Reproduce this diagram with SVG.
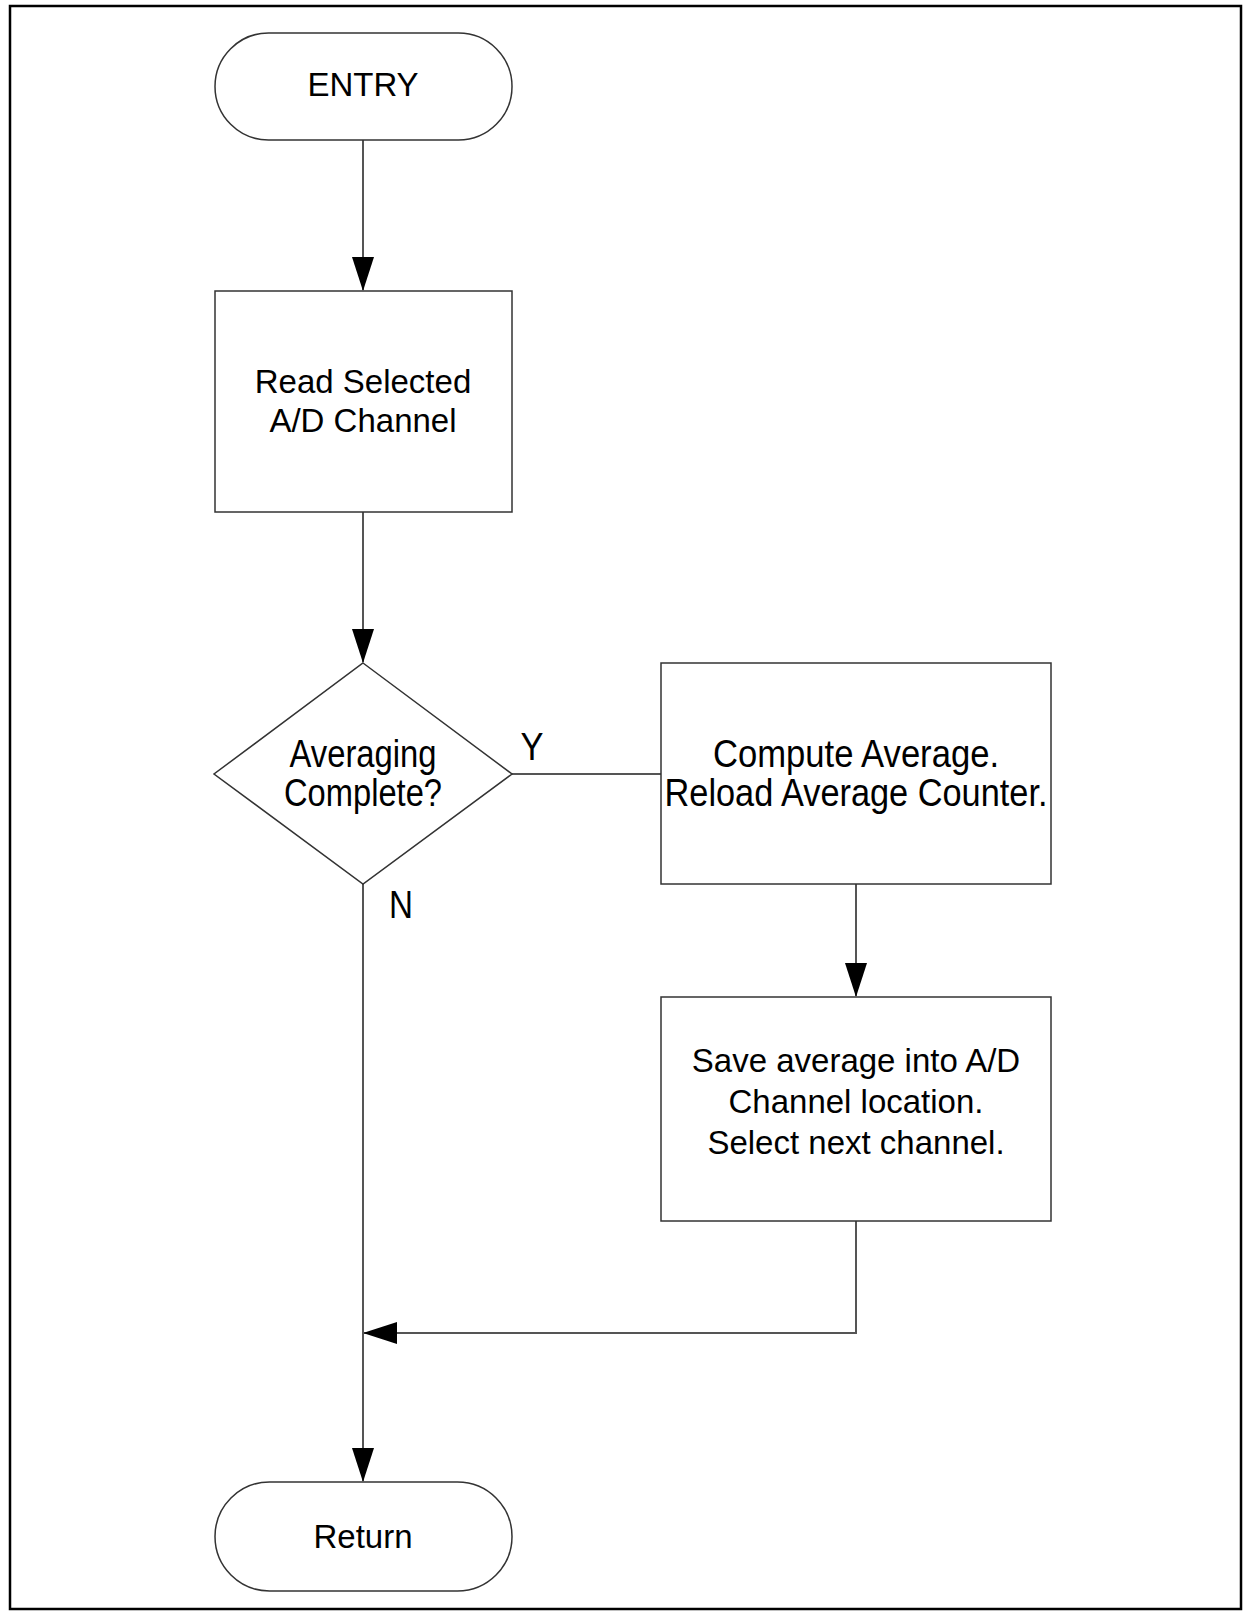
<svg xmlns="http://www.w3.org/2000/svg" width="1244" height="1612" viewBox="0 0 1244 1612">
<defs>
<style>
.shape{fill:#fff;stroke:#333;stroke-width:1.5}
.conn{fill:none;stroke:#555;stroke-width:2}
.t{font-family:"Liberation Sans",Arial,sans-serif;font-size:33px;fill:#000;text-anchor:middle}
.n{font-family:"Liberation Sans",Arial,sans-serif;font-size:38px;fill:#000;text-anchor:middle}
</style>
<marker id="arr" markerUnits="userSpaceOnUse" markerWidth="34" markerHeight="22" refX="33" refY="11" viewBox="0 0 34 22" orient="auto">
<path d="M0,0 L34,11 L0,22 Z" fill="#000"/>
</marker>
</defs>
<rect x="0" y="0" width="1244" height="1612" fill="#fff"/>
<rect id="frame" x="10" y="6" width="1231" height="1603" fill="none" stroke="#000" stroke-width="2.5"/>
<g id="connectors">
<line class="conn" x1="363" y1="140" x2="363" y2="290" marker-end="url(#arr)"/>
<line class="conn" x1="363" y1="512" x2="363" y2="662" marker-end="url(#arr)"/>
<line class="conn" x1="512" y1="774" x2="661" y2="774"/>
<line class="conn" x1="856" y1="884" x2="856" y2="996" marker-end="url(#arr)"/>
<polyline class="conn" points="856,1221 856,1333 364,1333" marker-end="url(#arr)"/>
<line class="conn" x1="363" y1="884" x2="363" y2="1481" marker-end="url(#arr)"/>
</g>
<g id="entry">
<rect class="shape" x="215" y="33" width="297" height="107" rx="53.5" ry="53.5"/>
<text class="t" x="363" y="96">ENTRY</text>
</g>
<g id="read">
<rect class="shape" x="215" y="291" width="297" height="221"/>
<text class="t" x="363" y="393">Read Selected</text>
<text class="t" x="363" y="432">A/D Channel</text>
</g>
<g id="decision">
<polygon class="shape" points="363,663 512,774 363,884 214,774"/>
<text class="n" x="363" y="767" textLength="147" lengthAdjust="spacingAndGlyphs">Averaging</text>
<text class="n" x="363" y="806" textLength="158" lengthAdjust="spacingAndGlyphs">Complete?</text>
</g>
<text class="n" x="532" y="760" textLength="23" lengthAdjust="spacingAndGlyphs">Y</text>
<text class="n" x="401" y="918" textLength="24" lengthAdjust="spacingAndGlyphs">N</text>
<g id="compute">
<rect class="shape" x="661" y="663" width="390" height="221"/>
<text class="n" x="856" y="767" textLength="286" lengthAdjust="spacingAndGlyphs">Compute Average.</text>
<text class="n" x="856" y="806" textLength="383" lengthAdjust="spacingAndGlyphs">Reload Average Counter.</text>
</g>
<g id="save">
<rect class="shape" x="661" y="997" width="390" height="224"/>
<text class="t" x="856" y="1072">Save average into A/D</text>
<text class="t" x="856" y="1113">Channel location.</text>
<text class="t" x="856" y="1154">Select next channel.</text>
</g>
<g id="return">
<rect class="shape" x="215" y="1482" width="297" height="109" rx="54.5" ry="54.5"/>
<text class="t" x="363" y="1548">Return</text>
</g>
</svg>
